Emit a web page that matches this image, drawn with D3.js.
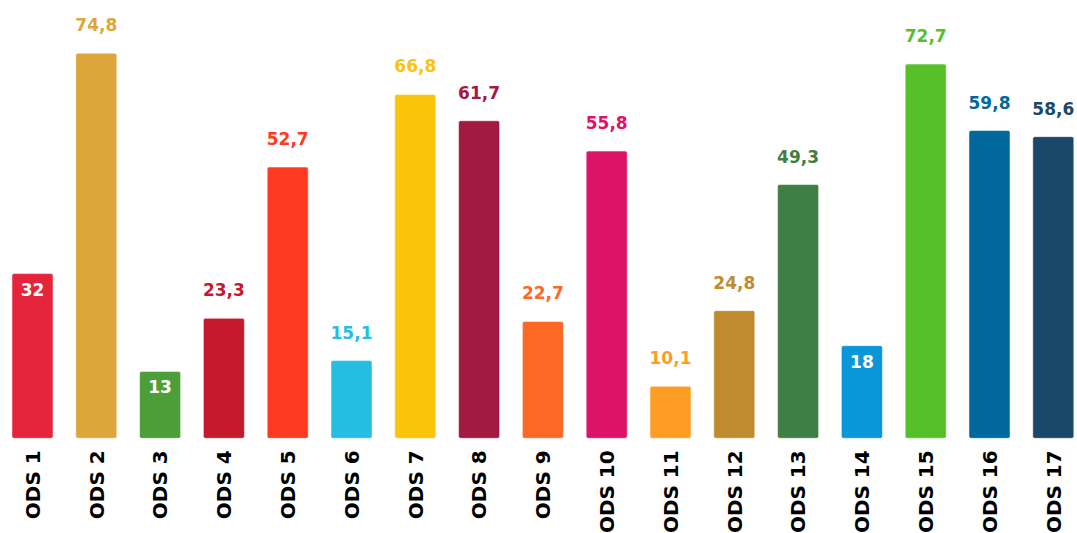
<!DOCTYPE html>
<html><head><meta charset="utf-8">
<script src="https://cdn.jsdelivr.net/npm/d3@7"></script>
<style>body{margin:0;background:#fff}svg{display:block}</style>
</head><body>
<script>
const categories = ["ODS 1","ODS 2","ODS 3","ODS 4","ODS 5","ODS 6","ODS 7","ODS 8","ODS 9","ODS 10","ODS 11","ODS 12","ODS 13","ODS 14","ODS 15","ODS 16","ODS 17"];
const values = [32, 74.8, 13, 23.3, 52.7, 15.1, 66.8, 61.7, 22.7, 55.8, 10.1, 24.8, 49.3, 18, 72.7, 59.8, 58.6];
const colors = ["#e5243b","#dda63a","#4c9f38","#c5192d","#ff3a21","#26bde2","#fcc30b","#a21942","#fd6925","#dd1367","#fd9d24","#bf8b2e","#3f7e44","#0a97d9","#56c02b","#00689d","#19486a"];
const insideLabels = ["ODS 1","ODS 3","ODS 14"];

const W = 1077, H = 533;
const svg = d3.select("body").append("svg").attr("width", W).attr("height", H);
const font = "'DejaVu Sans', Verdana, sans-serif";

const x = d3.scaleBand().domain(categories).range([0.6, 1085.2]).paddingInner(0.357).paddingOuter(0.1785);
const y = d3.scaleLinear().domain([0, 74.8]).range([438.3, 53.3]);

const data = categories.map((c, i) => ({c, v: values[i], col: colors[i]}));
const fmt = v => String(v).replace(".", ",");

svg.selectAll("rect.bar").data(data).join("rect")
  .attr("class", "bar")
  .attr("x", d => x(d.c))
  .attr("width", x.bandwidth())
  .attr("y", d => y(d.v))
  .attr("height", d => y(0) - y(d.v))
  .attr("rx", 2)
  .attr("fill", d => d.col)
  .attr("stroke", "#fff").attr("stroke-opacity", 0.5).attr("stroke-width", 1);

svg.selectAll("text.val").data(data).join("text")
  .attr("class", "val")
  .attr("x", d => x(d.c) + x.bandwidth() / 2)
  .attr("y", d => insideLabels.includes(d.c) ? y(d.v) + 22 : y(d.v) - 22)
  .attr("text-anchor", "middle")
  .attr("font-family", font).attr("font-weight", "bold").attr("font-size", 17)
  .attr("fill", d => insideLabels.includes(d.c) ? "#fff" : d.col)
  .text(d => fmt(d.v));

const xAxis = d3.axisBottom(x).tickSize(0).tickPadding(0);
const g = svg.append("g").attr("transform", `translate(0,${y(0)})`).call(xAxis);
g.select(".domain").remove();
g.selectAll(".tick text")
  .attr("transform", "rotate(-90)")
  .attr("x", -12).attr("y", 0).attr("dy", "0.36em")
  .attr("text-anchor", "end")
  .attr("font-family", font).attr("font-weight", "bold").attr("font-size", 20)
  .attr("fill", "#000");
</script>
</body></html>
